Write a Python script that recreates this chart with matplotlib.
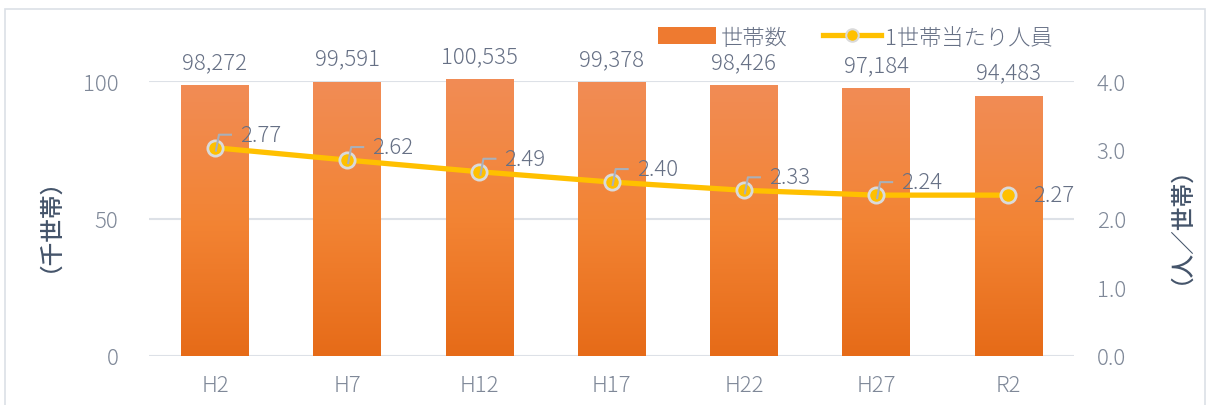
# Households bar chart with persons-per-household line on a second axis

import numpy as np
import matplotlib.pyplot as plt
from matplotlib.patches import Rectangle
from matplotlib.lines import Line2D
from matplotlib.colors import LinearSegmentedColormap

plt.rcParams['font.family'] = ['Noto Sans CJK JP', 'DejaVu Sans']
plt.rcParams['font.weight'] = 'light'

# data
years = ['H2', 'H7', 'H12', 'H17', 'H22', 'H27', 'R2']
households = [98272, 99591, 100535, 99378, 98426, 97184, 94483]
persons_pos = [3.03, 2.85, 2.68, 2.53, 2.41, 2.34, 2.34]     # where the markers sit
persons_lbl = ['2.77', '2.62', '2.49', '2.40', '2.33', '2.24', '2.27']  # printed labels

tick_col = '#7F8898'
lbl_col = '#667085'
title_col = '#44546A'
grid_col = '#DDE1E7'
line_col = '#FFC000'

fig = plt.figure(figsize=(12.1, 4.06), dpi=100)
ax = fig.add_axes([0.123, 0.1207, 0.765, 0.6773])
ax2 = ax.twinx()

# outer chart frame
fig.patches.append(Rectangle((5/1210, -0.02), 1200/1210, 1 - 10/406 + 0.02,
                             transform=fig.transFigure, fill=False,
                             edgecolor='#DCE0E6', lw=1.2))

x = np.arange(len(years))
h = np.array(households) / 1000
bars = ax.bar(x, h, width=0.51, color='#F07F33', zorder=2)

# vertical gradient on each bar
grad = np.linspace(0, 1, 256).reshape(-1, 1)
cmap = LinearSegmentedColormap.from_list('og', ['#E66B18', '#F38434', '#F18C55'])
for b in bars:
    x0, y0, w, hh = b.get_x(), b.get_y(), b.get_width(), b.get_height()
    im = ax.imshow(grad, cmap=cmap, aspect='auto', origin='lower',
                   extent=[x0, x0 + w, y0, y0 + hh], zorder=2, clip_on=False)
    im.set_clip_path(b)

for xi, v in zip(x, households):
    ax.annotate(f'{v:,}', (xi, v / 1000), xytext=(0, 9), textcoords='offset points',
                ha='center', va='bottom', fontsize=16, color=lbl_col,
                annotation_clip=False)

ax.set_xlim(-0.5, len(years) - 0.5)
ax.set_ylim(0, 100)
ax.set_yticks([0, 50, 100])
ax.grid(axis='y', color=grid_col, lw=1.5, zorder=0)
ax.set_axisbelow(True)
ax.set_xticks(x)
ax.set_xticklabels(years)
ax.tick_params(axis='x', length=0, pad=13, labelsize=16, labelcolor=tick_col)
ax.tick_params(axis='y', length=0, pad=22, labelsize=16, labelcolor=tick_col)
for s in ax.spines.values():
    s.set_visible(False)
ax.set_ylabel('（千世帯）', fontsize=17, color=title_col, fontweight='medium')
ax.yaxis.set_label_coords(-0.107, 0.524)

ax2.plot(x, persons_pos, color=line_col, lw=3.8, marker='o', markersize=11,
         markerfacecolor=line_col, markeredgecolor='#DADADA', markeredgewidth=2,
         zorder=5, solid_capstyle='round')
ax2.set_ylim(0, 4)
ax2.set_yticks([0, 1, 2, 3, 4])
ax2.set_yticklabels([f'{t:.1f}' for t in [0, 1, 2, 3, 4]])
ax2.tick_params(axis='y', length=0, pad=16, labelsize=16, labelcolor=tick_col)
for s in ax2.spines.values():
    s.set_visible(False)
ax2.set_ylabel('（人／世帯）', fontsize=17, color=title_col, rotation=90, fontweight='medium')
ax2.yaxis.set_label_coords(1.0896, 0.524)

# line labels with small leader lines (positions in pixels)
for i, (v, t) in enumerate(zip(persons_pos, persons_lbl)):
    px, py = ax2.transData.transform((i, v))
    if i < len(years) - 1:
        ax2.text(px + 25, py + 13, t, transform=None, fontsize=16, color=lbl_col,
                 ha='left', va='center', zorder=6)
        fig.lines.append(Line2D([px + 1, px + 4, px + 16], [py - 3, py + 13, py + 13],
                                color='#A9B0BA', lw=1.5, zorder=6))
    else:
        ax2.text(px + 25, py, t, transform=None, fontsize=16, color=lbl_col,
                 ha='left', va='center', zorder=6)

handles = [Rectangle((0, 0), 1, 1, facecolor='#EE7A30'),
           Line2D([], [], color=line_col, lw=3.8, marker='o', markersize=9,
                  markerfacecolor=line_col, markeredgecolor='#DADADA', markeredgewidth=1.5)]
fig.legend(handles, ['世帯数', '1世帯当たり人員'], loc='center', bbox_to_anchor=(0.707, 0.905),
           ncol=2, frameon=False, fontsize=16, labelcolor=lbl_col, handlelength=2.6,
           handletextpad=0.2, columnspacing=1.6, handleheight=0.8)

fig.savefig('out.png', dpi=100)
